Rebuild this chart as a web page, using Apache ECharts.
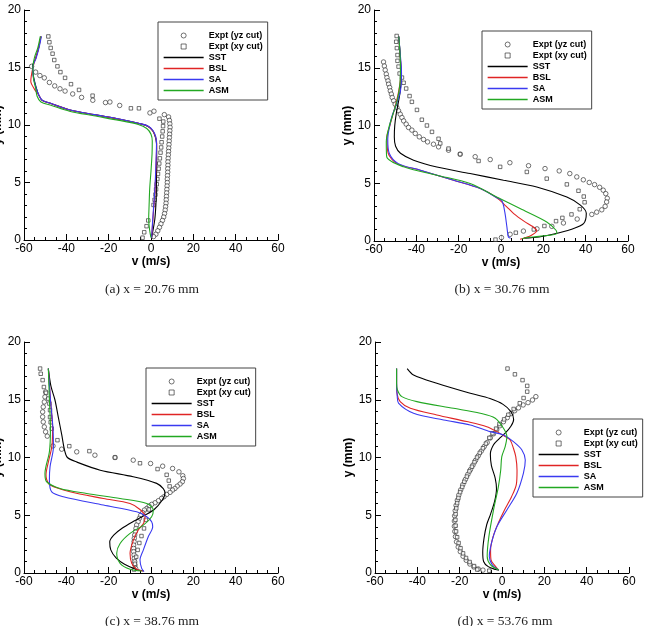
<!DOCTYPE html>
<html>
<head>
<meta charset="utf-8">
<script src="https://cdn.jsdelivr.net/npm/echarts@6/dist/echarts.min.js"></script>
<style>
html, body { margin: 0; padding: 0; background: #fff; }
#main { width: 646px; height: 626px; }
</style>
</head>
<body>
<div id="main"></div>
<script>
// 每个面板: [v (m/s), y (mm)]
// (a) x = 20.76 mm
var aYz = [[-56.4,15.1],[-54.5,14.6],[-52.5,14.3],[-50.4,14.1],[-48,13.7],[-45.5,13.4],[-43,13.15],[-40.6,12.95],[-37,12.7],[-32.8,12.4],[-27.5,12.15],[-21.5,11.95],[-19.4,12.0],[-14.8,11.7],[-0.5,11.05],[1.4,11.2],[6.3,10.9],[8.3,10.7],[8.7,10.4],[8.9,10.1],[9,9.8],[8.9,9.5],[8.8,9.2],[8.7,8.9],[8.6,8.6],[8.5,8.3],[8.4,8.0],[8.3,7.7],[8.2,7.4],[8.1,7.1],[8.0,6.8],[8.0,6.5],[7.9,6.2],[7.9,5.9],[7.8,5.6],[7.7,5.3],[7.7,5.0],[7.6,4.7],[7.5,4.4],[7.4,4.1],[7.3,3.8],[7.2,3.5],[7.1,3.2],[6.9,2.9],[6.7,2.6],[6.4,2.3],[6.0,2.0],[5.4,1.7],[4.7,1.4],[4.0,1.1],[3.2,0.8],[2.3,0.5],[1.2,0.3]];
var aXy = [[-48.5,17.7],[-48,17.2],[-47.4,16.7],[-46.5,16.2],[-45.7,15.65],[-44.2,15.1],[-42.8,14.6],[-40.6,14.1],[-37.8,13.55],[-34,13.05],[-27.6,12.55],[-9.5,11.45],[-5.7,11.45],[4.0,10.55],[5.8,10.3],[5.7,9.9],[5.5,9.45],[5.3,9.0],[5.0,8.5],[4.8,8.05],[4.5,7.6],[4.2,7.1],[3.9,6.65],[3.6,6.2],[3.3,5.75],[3.0,5.3],[2.7,4.85],[2.4,4.4],[2.1,3.95],[1.7,3.5],[1.2,3.05],[-1.3,1.7],[-2.1,1.2],[-3.2,0.67],[-4.0,0.2]];
var aSST = [[-52,17.7],[-53,16.8],[-54.5,15.8],[-56,15.1],[-55.5,14.2],[-54.3,13.3],[-53,12.6],[-51.5,12.15],[-47,11.85],[-38.3,11.3],[-27,10.9],[-14.7,10.5],[-6,10.15],[-1.5,9.9],[0.8,9.5],[2.0,9.0],[2.6,8.4],[2.7,7],[2.6,5.5],[2.5,4],[2.3,3],[1.8,1.8],[1.0,0.9],[0.3,0.2]];
var aBSL = [[-52,17.7],[-53.2,16.6],[-54.5,15.8],[-55.8,15],[-56.8,13.8],[-55,13.1],[-53,12.6],[-51.5,12.15],[-47,11.85],[-38.3,11.3],[-27,10.9],[-14.7,10.5],[-6,10.15],[-1.5,9.9],[0.8,9.5],[2.1,9.0],[2.7,8.4],[2.5,7],[2.2,5.5],[1.8,4],[1.3,2.8],[0.8,1.5],[0.3,0.2]];
var aSA = [[-51.8,17.7],[-52.8,16.8],[-54.3,15.8],[-55.8,15.1],[-55.6,14.2],[-54.4,13.3],[-53,12.6],[-51.4,12.15],[-46.8,11.85],[-38,11.3],[-26.7,10.9],[-14.4,10.5],[-5.8,10.15],[-1.3,9.9],[1,9.5],[2.2,9.0],[2.6,8.4],[2.4,7],[2.1,5.5],[1.7,4],[1.2,2.8],[0.7,1.5],[0.3,0.2]];
var aASM = [[-52.3,17.7],[-53.5,16.7],[-55,15.9],[-55.8,15.0],[-55.5,14],[-54.5,13.2],[-53.8,12.5],[-52,12.0],[-47,11.7],[-38.5,11.2],[-27,10.8],[-15,10.4],[-6,10.05],[-2,9.7],[0,9.2],[0.6,8.6],[0.5,7.5],[0,6],[-0.6,4.5],[-0.9,3],[-1.1,1.8],[-0.6,0.8],[0,0.2]];

// (b) x = 30.76 mm
var bYz = [[-55.5,15.5],[-55.1,15.15],[-54.7,14.8],[-54.2,14.45],[-53.9,14.15],[-53.4,13.87],[-53.1,13.58],[-52.6,13.3],[-52.3,13.0],[-51.8,12.72],[-51.4,12.43],[-50.7,12.14],[-50,11.85],[-49.2,11.56],[-48.4,11.27],[-47.6,10.98],[-46.8,10.69],[-46,10.4],[-44.8,10.12],[-43.7,9.83],[-42.1,9.6],[-40.5,9.31],[-38.6,9.02],[-36.6,8.79],[-34.7,8.58],[-31.9,8.38],[-29.5,8.15],[-24.8,7.86],[-19.3,7.52],[-12.2,7.3],[-5.1,7.05],[4.2,6.78],[13,6.52],[20.8,6.27],[27.5,6.07],[32.5,5.84],[35.8,5.55],[38.9,5.3],[41.7,5.07],[44.2,4.88],[46.6,4.65],[48.3,4.4],[49.5,4.1],[50.2,3.7],[49.9,3.38],[49.2,3.0],[47.6,2.7],[45.2,2.5],[42.9,2.3],[36,1.9],[29.5,1.56],[24,1.27],[17,1.05],[10.6,0.86],[4.3,0.58],[0.2,0.3]];
var bXy = [[-49.3,17.75],[-49.5,17.25],[-49.2,16.7],[-48.9,16.1],[-48.9,15.6],[-48.4,15.1],[-47.9,14.5],[-46.8,14.15],[-46,13.7],[-44.8,13.2],[-43.2,12.55],[-42.1,12.05],[-39.7,11.35],[-37.4,10.5],[-35,10.0],[-32.6,9.45],[-29.5,8.85],[-28.7,8.45],[-24.8,8.0],[-19.3,7.52],[-10.6,6.93],[-0.4,6.42],[12.2,5.98],[21.6,5.4],[31.1,4.9],[36.6,4.35],[39.1,3.85],[39.5,3.35],[37.2,2.75],[33.3,2.3],[29,2.0],[26,1.72],[20.5,1.3],[15.5,1.0],[7,0.72],[-2.6,0.12]];
var bSST = [[-48.3,17.7],[-47.8,16.5],[-47.3,15],[-47.2,14],[-47.6,13],[-48.5,12],[-49.5,11],[-50.2,10],[-50.4,9.0],[-49.8,8.2],[-47.5,7.6],[-41.3,7.0],[-30.3,6.4],[-14.6,5.84],[1.2,5.26],[16.9,4.68],[31.1,3.8],[37.5,3.1],[40.3,2.4],[39,1.5],[33,1.0],[25,0.6],[18,0.35],[11,0.25]];
var bBSL = [[-48.3,17.7],[-47.8,16.5],[-47.3,15],[-47.5,14],[-48.3,13],[-49.5,12],[-51,11],[-52.5,10],[-53.9,9.0],[-53.3,7.6],[-49.1,6.7],[-38.2,6.13],[-22.4,5.26],[-9.8,4.54],[-2,3.75],[2.5,3.0],[6,2.37],[11,1.7],[15,1.25],[16.9,0.9],[14,0.45],[9,0.15]];
var bSA = [[-48.3,17.7],[-47.5,16],[-47,14.5],[-47.5,13],[-49.5,11.8],[-51.5,10.8],[-52.8,9.8],[-53.5,8.8],[-52.8,7.6],[-48.5,6.7],[-38,6.13],[-22.4,5.26],[-9.8,4.54],[-2,3.75],[0.4,3.5],[1.8,2.5],[2.8,1.2],[3.5,0.35],[4.5,0.25]];
var bASM = [[-48.3,17.7],[-47.8,16.5],[-47.5,15],[-47.8,13.5],[-49,12.2],[-51,11],[-53,9.8],[-54.2,8.6],[-54,7.3],[-46,6.42],[-30.3,5.7],[-14.6,4.97],[-2,3.81],[9,2.81],[21.6,1.65],[26,0.93],[26.4,0.64],[18,0.4],[12.2,0.3],[10,0.2]];

// (c) x = 38.76 mm
var cYz = [[-49.8,15.68],[-50.1,15.25],[-50.4,14.81],[-50.9,14.38],[-51.2,13.95],[-51.2,13.52],[-50.9,13.08],[-50.4,12.65],[-49.8,12.22],[-49,11.85],[-46.3,11.0],[-42.2,10.72],[-35.1,10.49],[-26.5,10.2],[-17,10.0],[-8.4,9.77],[-0.2,9.48],[5.5,9.25],[10.2,9.05],[13.2,8.76],[15,8.42],[15.3,8.18],[14.8,7.9],[13.7,7.7],[12.4,7.52],[11.3,7.32],[10.2,7.18],[9,6.98],[7.4,6.8],[6.1,6.6],[5,6.46],[3.5,6.26],[1.9,6.08],[0.3,5.94],[-0.9,5.79],[-2,5.59],[-3.1,5.45],[-3.9,5.22],[-4.9,4.99],[-5.5,4.73],[-6.1,4.44],[-6.8,4.15],[-7.1,3.86],[-7.4,3.57],[-7.7,3.29],[-7.9,3.0],[-8,2.71],[-8.2,2.42],[-8.2,2.13],[-8.2,1.85],[-8,1.56],[-7.9,1.27],[-7.7,0.98],[-7.6,0.69],[-7.25,0.4]];
var cXy = [[-52.4,17.7],[-52.1,17.25],[-51.2,16.7],[-50.6,16.1],[-49.6,15.6],[-48.5,15.1],[-48,14.67],[-47.7,14.1],[-47.7,13.5],[-47.4,13.05],[-46.9,12.5],[-44.2,11.5],[-38.6,10.98],[-29.1,10.55],[-17,10.0],[-5.2,9.5],[3.1,9.0],[7.4,8.5],[8.4,8.0],[8.8,7.5],[-1,5.5],[-2.5,4.6],[-3.3,3.86],[-4.5,3.2],[-5.5,2.6],[-6.3,2.0],[-7,1.4],[-7.6,0.8],[-8,0.3]];
var cSST = [[-48.5,17.7],[-47.3,16.2],[-45.4,15.0],[-43.8,13.5],[-42.2,12],[-40.8,10.6],[-39.5,10.0],[-35,9.6],[-24,8.9],[-8.4,8.33],[2.7,7.76],[5.8,7.3],[6.6,6.9],[5.3,6.3],[1.5,5.5],[-3,5.0],[-8,4.5],[-13.5,3.9],[-17.5,3.3],[-19.5,2.7],[-19,2.0],[-16.5,1.3],[-12.5,0.75],[-7.5,0.35],[-3.6,0.17]];
var cBSL = [[-48.5,17.7],[-47.5,15],[-46.5,12.5],[-46.8,11],[-48.5,9.6],[-49.6,8.5],[-49.3,8.1],[-47.7,7.61],[-38.3,7.03],[-22.5,6.45],[-9.9,6.02],[-5.2,5.5],[-2.8,4.9],[-3.5,4.3],[-6,3.72],[-8.3,2.85],[-9.9,1.7],[-9.1,0.84],[-6.8,0.32],[-3.6,0.17]];
var cSA = [[-48.5,17.7],[-47.5,15],[-46.3,12.5],[-46.1,10.9],[-47.7,9.19],[-48,8.04],[-46.9,7.03],[-41.4,6.6],[-22.5,5.88],[-6.8,5.3],[-2,4.87],[0.3,4.44],[0.8,4.0],[-1.3,3.14],[-3.6,2.0],[-5.2,1.12],[-4.4,0.4],[-3.3,0.12]];
var cASM = [[-48.5,17.7],[-48,15],[-47.5,12.5],[-48,10.5],[-50.1,8.62],[-49.3,7.9],[-43,7.32],[-30.4,6.89],[-14.6,6.45],[-2,6.02],[1.1,5.45],[0.3,4.87],[-3.6,4.15],[-9.9,3.43],[-14.6,2.56],[-16.2,1.7],[-14.6,0.84],[-9.9,0.32],[-4.4,0.17]];

// (d) x = 53.76 mm
var dYz = [[16,15.27],[14.4,14.98],[12.3,14.75],[10,14.55],[7.8,14.3],[6,14.05],[4.3,13.8],[2.5,13.45],[0.7,13.1],[-1,12.75],[-2.5,12.4],[-4,12.05],[-5.5,11.7],[-7,11.3],[-8.4,10.95],[-9.8,10.55],[-11.2,10.15],[-12.5,9.75],[-13.7,9.35],[-14.9,8.95],[-16.1,8.55],[-17.3,8.1],[-18.5,7.65],[-19.5,7.2],[-20.4,6.75],[-21.1,6.3],[-21.7,5.85],[-22.1,5.4],[-22.4,4.95],[-22.5,4.5],[-22.5,4.05],[-22.3,3.6],[-22,3.15],[-21.5,2.7],[-20.7,2.25],[-19.7,1.85],[-18.4,1.45],[-16.9,1.1],[-15.2,0.78],[-13.3,0.52],[-11.2,0.35],[-9,0.25]];
var dXy = [[2.6,17.7],[6.1,17.2],[9.7,16.7],[11.9,16.2],[11.9,15.7],[10.2,15.15],[8.4,14.7],[5.5,14.2],[3,13.7],[1,13.3],[-1.2,12.9],[-2.8,12.5],[-4.5,12.1],[-6,11.7],[-7.6,11.2],[-9,10.8],[-10.5,10.4],[-11.8,10],[-13,9.6],[-14.2,9.2],[-15.4,8.8],[-16.6,8.35],[-17.8,7.9],[-18.8,7.45],[-19.8,7.0],[-20.6,6.5],[-21.2,6.05],[-21.6,5.6],[-21.9,5.1],[-22,4.6],[-21.9,4.1],[-21.7,3.6],[-21.2,3.1],[-20.5,2.6],[-19.6,2.15],[-18.4,1.7],[-17,1.3],[-15.3,0.95],[-13.2,0.6],[-11.7,0.3],[-6,0.2]];
var dSST = [[-44.8,17.7],[-41.8,17.15],[-30.8,16.43],[-15,15.56],[-5.7,15.1],[0.5,14.6],[4.2,13.97],[5.5,13.3],[4.2,12.7],[1.5,12.1],[-1.5,11.6],[-4,11.1],[-5.5,10.3],[-5,9.3],[-3.2,8.2],[-2.6,7.3],[-3.5,6.2],[-5.4,5.1],[-7.2,4.2],[-8.5,3.0],[-9.1,1.8],[-8.7,1.0],[-6.5,0.55],[-3,0.3],[-1.5,0.25]];
var dBSL = [[-49.8,17.7],[-49.8,16.5],[-49.6,15.56],[-48.1,14.84],[-43.3,14.26],[-30.8,13.68],[-16.6,13.11],[-7.2,12.67],[-2.4,12.24],[1.5,11.81],[3.85,11.52],[5.4,10.8],[6.5,10.07],[7.1,8.9],[6.8,7.7],[4.5,6.6],[1.0,5.4],[-1.8,4.3],[-4.2,3.15],[-5.4,2.0],[-5.2,1.13],[-3,0.55],[-1.5,0.25]];
var dSA = [[-49.8,17.7],[-49.8,16.5],[-49.5,15.3],[-48.9,14.7],[-41.8,13.83],[-27.6,13.25],[-15,12.82],[-5.6,12.24],[0.7,11.95],[5.4,11.37],[9.4,10.65],[11,9.79],[10.1,8.63],[7,6.9],[2.3,5.46],[-2.4,4.02],[-5.0,2.57],[-6,1.42],[-4.6,0.7],[-1.5,0.25]];
var dASM = [[-49.8,17.7],[-49.8,16.4],[-49.4,15.85],[-47.3,15.27],[-40.2,14.84],[-22.9,14.26],[-10.3,13.83],[-3.2,13.4],[0.7,12.53],[2.3,11.81],[1.5,10.94],[-0.1,10.08],[-0.6,8.92],[-1.7,7.48],[-4.0,5.46],[-6.2,3.15],[-7.0,1.42],[-5.4,0.7],[-1.5,0.25]];

var names = ['Expt (yz cut)', 'Expt (xy cut)', 'SST', 'BSL', 'SA', 'ASM'];
var captions = ['(a) x = 20.76 mm', '(b) x = 30.76 mm', '(c) x = 38.76 mm', '(d) x = 53.76 mm'];
var panels = [
  [aYz, aXy, aSST, aBSL, aSA, aASM],
  [bYz, bXy, bSST, bBSL, bSA, bASM],
  [cYz, cXy, cSST, cBSL, cSA, cASM],
  [dYz, dXy, dSST, dBSL, dSA, dASM]
];

var lineColors = ['#000000', '#e02424', '#3a3af0', '#22a822'];
var gridBoxes = [
  { left: 24, top: 10, width: 254, height: 230 },
  { left: 374, top: 10, width: 254, height: 231 },
  { left: 24, top: 342, width: 254, height: 231 },
  { left: 375, top: 342, width: 254, height: 231 }
];
var legendPos = [[158, 22], [482, 31], [146, 368], [533, 419]];
var captionPos = [[152, 282], [502, 282], [152, 614], [505, 614]];

var sans = 'Liberation Sans';
var markColor = '#222';
var squareIcon = 'path://M0,0L10,0L10,10L0,10Z';
var grids = [], xAxes = [], yAxes = [], legends = [], titles = [], series = [];

function lineItem(k) {
  return {
    name: names[k],
    itemStyle: { color: 'rgba(0,0,0,0)', borderWidth: 0 },
    lineStyle: { color: lineColors[k - 2], width: 1.3 }
  };
}

panels.forEach(function (d, i) {
  grids.push(Object.assign({ containLabel: false, outerBoundsMode: 'none' }, gridBoxes[i]));

  xAxes.push({
    type: 'value', gridIndex: i, min: -60, max: 60, interval: 20,
    name: 'v (m/s)', nameLocation: 'middle', nameGap: 13,
    nameTextStyle: { fontFamily: sans, fontWeight: 'bold', fontSize: 12, color: '#000' },
    axisLine: { show: true, onZero: false, lineStyle: { color: '#000', width: 1 } },
    axisTick: { show: true, inside: true, length: 6, lineStyle: { color: '#000' } },
    minorTick: { show: true, splitNumber: 4, length: 3, lineStyle: { color: '#000' } },
    splitLine: { show: false },
    axisLabel: { fontFamily: sans, fontSize: 12, color: '#000', margin: 3 }
  });

  yAxes.push({
    type: 'value', gridIndex: i, min: 0, max: 20, interval: 5,
    name: 'y (mm)', nameLocation: 'middle', nameGap: 17, nameRotate: 90,
    nameTextStyle: { fontFamily: sans, fontWeight: 'bold', fontSize: 12, color: '#000' },
    axisLine: { show: true, onZero: false, lineStyle: { color: '#000', width: 1 } },
    axisTick: { show: true, inside: true, length: 6, lineStyle: { color: '#000' } },
    minorTick: { show: true, splitNumber: 5, length: 3, lineStyle: { color: '#000' } },
    splitLine: { show: false },
    axisLabel: { fontFamily: sans, fontSize: 12, color: '#000', margin: 3 }
  });

  legends.push({
    orient: 'vertical', left: legendPos[i][0], top: legendPos[i][1],
    data: [
      { name: names[0], icon: 'circle', itemStyle: { color: '#fff', borderColor: markColor, borderWidth: 0.8 } },
      { name: names[1], icon: squareIcon, itemStyle: { color: '#fff', borderColor: markColor, borderWidth: 0.8 } },
      lineItem(2), lineItem(3), lineItem(4), lineItem(5)
    ],
    itemWidth: 40, itemHeight: 5, itemGap: 0, itemTextGap: 8,
    symbolKeepAspect: true,
    padding: [8, 5, 4, 5],
    borderColor: '#444', borderWidth: 1, backgroundColor: '#fff',
    selectedMode: false,
    textStyle: { fontFamily: sans, fontWeight: 'bold', fontSize: 9, lineHeight: 11, color: '#000' }
  });

  titles.push({
    text: captions[i], left: captionPos[i][0], top: captionPos[i][1],
    textAlign: 'center', padding: 0,
    textStyle: { fontFamily: 'Liberation Serif', fontWeight: 'normal', fontSize: 13.5, color: '#222' }
  });

  series.push({
    name: names[0], type: 'scatter', xAxisIndex: i, yAxisIndex: i, data: d[0],
    symbol: 'circle', symbolSize: 4.5, z: 2,
    itemStyle: { color: '#fff', borderColor: markColor, borderWidth: 0.8 }
  });
  series.push({
    name: names[1], type: 'scatter', xAxisIndex: i, yAxisIndex: i, data: d[1],
    symbol: 'rect', symbolSize: 3.5, z: 2,
    itemStyle: { color: '#fff', borderColor: markColor, borderWidth: 0.8 }
  });
  for (var k = 2; k < 6; k++) {
    series.push({
      name: names[k], type: 'line', xAxisIndex: i, yAxisIndex: i, data: d[k],
      symbol: 'none', smooth: 0.3, z: 3,
      lineStyle: { color: lineColors[k - 2], width: 1.1 },
      itemStyle: { color: lineColors[k - 2] }
    });
  }
});

var myChart = echarts.init(document.getElementById('main'));
var option = {
  backgroundColor: '#fff',
  animation: false,
  title: titles,
  legend: legends,
  grid: grids,
  xAxis: xAxes,
  yAxis: yAxes,
  series: series
};
myChart.setOption(option);
window.onresize = function () {
  myChart.resize();
};
</script>
</body>
</html>
